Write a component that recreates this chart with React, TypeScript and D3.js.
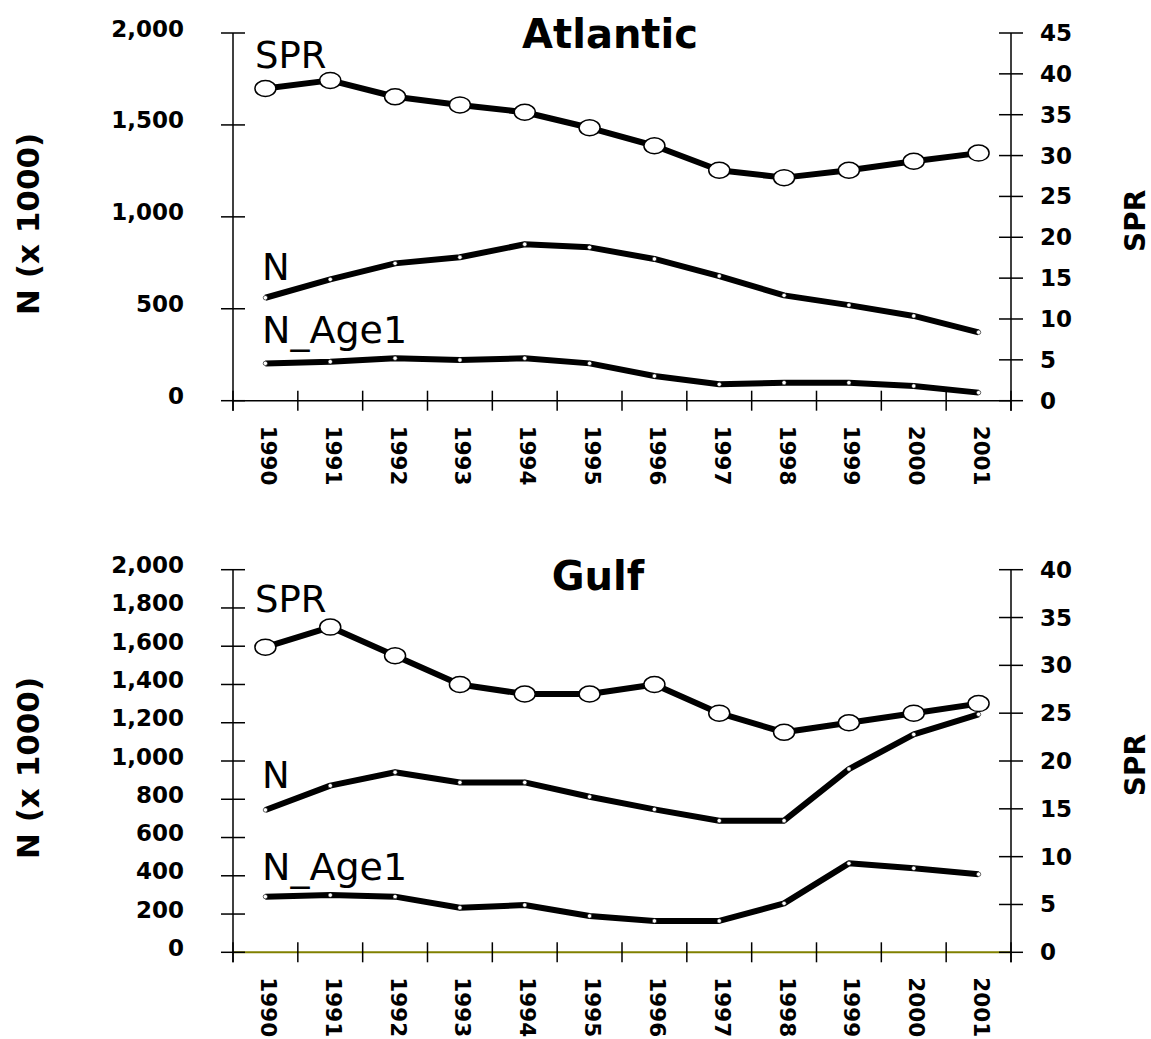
import React from "react";
import * as d3 from "d3";

// ---- data ----
const years = ["1990", "1991", "1992", "1993", "1994", "1995", "1996", "1997", "1998", "1999", "2000", "2001"];

const atlanticSPR = [38.2, 39.2, 37.2, 36.2, 35.3, 33.4, 31.2, 28.2, 27.3, 28.2, 29.3, 30.3];
const atlanticN = [560, 660, 747, 780, 851, 834, 771, 678, 573, 520, 461, 372];
const atlanticNAge1 = [203, 212, 231, 221, 231, 203, 134, 89, 98, 98, 80, 44];

const gulfSPR = [31.9, 34.0, 31.0, 28.0, 27.0, 27.0, 28.0, 25.0, 23.0, 24.0, 25.0, 26.0];
const gulfN = [744, 871, 941, 888, 888, 813, 747, 688, 688, 958, 1139, 1244];
const gulfNAge1 = [291, 299, 291, 233, 247, 190, 164, 164, 256, 465, 439, 408];

const atlanticNTicks = [0, 500, 1000, 1500, 2000];
const atlanticSPRTicks = [0, 5, 10, 15, 20, 25, 30, 35, 40, 45];
const gulfNTicks = [0, 200, 400, 600, 800, 1000, 1200, 1400, 1600, 1800, 2000];
const gulfSPRTicks = [0, 5, 10, 15, 20, 25, 30, 35, 40];

const FONT = "'Comic Sans MS', 'DejaVu Sans', sans-serif";
const W = 1151;
const H = 1039;
const X0 = 233;
const X1 = 1011;

const fmt = d3.format(",");

type PanelProps = {
  title: string;
  titleX: number;
  titleDy: number;
  spr: number[];
  n: number[];
  nAge1: number[];
  nTicks: number[];
  sprTicks: number[];
  top: number;
  bottom: number;
  axisColor: string;
  labelDy: number[];
};

function Panel(p: PanelProps) {
  const x = d3.scaleBand().domain(years).range([X0, X1]);
  const yN = d3.scaleLinear().domain([0, p.nTicks[p.nTicks.length - 1]]).range([p.bottom, p.top]);
  const yS = d3.scaleLinear().domain([0, p.sprTicks[p.sprTicks.length - 1]]).range([p.bottom, p.top]);
  const cx = (i: number) => (x(years[i]) as number) + x.bandwidth() / 2;

  const lineN = d3.line<number>().x((_, i) => cx(i)).y((d) => yN(d));
  const lineS = d3.line<number>().x((_, i) => cx(i)).y((d) => yS(d));

  const bw = x.bandwidth();
  const xTicks = d3.range(years.length + 1).map((i) => X0 + i * bw);
  const mid = (p.top + p.bottom) / 2;

  return (
    <g>
      {/* title */}
      <text x={p.titleX} y={p.top + p.titleDy} textAnchor="middle" fontFamily={FONT} fontWeight="bold" fontSize={40}>
        {p.title}
      </text>

      {/* x axis */}
      <line x1={X0} x2={X1} y1={p.bottom} y2={p.bottom} stroke={p.axisColor} strokeWidth={p.axisColor === "#000" ? 1.5 : 2} />
      {xTicks.map((t, i) => (
        <line key={"xt" + i} x1={t} x2={t} y1={p.bottom - 10} y2={p.bottom + 10} stroke="#000" strokeWidth={1.5} />
      ))}
      {years.map((yr, i) => (
        <text
          key={"yl" + yr}
          transform={`translate(${cx(i) + 3},${p.bottom + 25}) rotate(90)`}
          textAnchor="start"
          dominantBaseline="central"
          fontFamily={FONT}
          fontWeight="bold"
          fontSize={21.5}
        >
          {yr}
        </text>
      ))}

      {/* left axis */}
      <line x1={X0} x2={X0} y1={p.top} y2={p.bottom + 10} stroke="#000" strokeWidth={1.5} />
      {p.nTicks.map((t) => (
        <g key={"ln" + t}>
          <line x1={X0 - 12} x2={X0 + 12} y1={yN(t)} y2={yN(t)} stroke="#000" strokeWidth={1.5} />
          <text x={184} y={yN(t) - 4.5} textAnchor="end" dominantBaseline="central" fontFamily={FONT} fontWeight="bold" fontSize={23}>
            {fmt(t)}
          </text>
        </g>
      ))}
      <text
        transform={`translate(28,${mid + 7}) rotate(-90)`}
        textAnchor="middle"
        dominantBaseline="central"
        fontFamily={FONT}
        fontWeight="bold"
        fontSize={31}
      >
        N (x 1000)
      </text>

      {/* right axis */}
      <line x1={X1} x2={X1} y1={p.top} y2={p.bottom + 10} stroke="#000" strokeWidth={1.5} />
      {p.sprTicks.map((t) => (
        <g key={"rs" + t}>
          <line x1={X1 - 12} x2={X1 + 12} y1={yS(t)} y2={yS(t)} stroke="#000" strokeWidth={1.5} />
          <text x={1040} y={yS(t)} textAnchor="start" dominantBaseline="central" fontFamily={FONT} fontWeight="bold" fontSize={23}>
            {t}
          </text>
        </g>
      ))}
      <text
        transform={`translate(1135,${mid + 4}) rotate(-90)`}
        textAnchor="middle"
        dominantBaseline="central"
        fontFamily={FONT}
        fontWeight="bold"
        fontSize={28}
      >
        SPR
      </text>

      {/* series */}
      <path d={lineN(p.nAge1) || ""} fill="none" stroke="#000" strokeWidth={6} strokeLinejoin="round" />
      <path d={lineN(p.n) || ""} fill="none" stroke="#000" strokeWidth={6} strokeLinejoin="round" />
      <path d={lineS(p.spr) || ""} fill="none" stroke="#000" strokeWidth={6} strokeLinejoin="round" />

      {p.nAge1.map((d, i) => (
        <circle key={"a" + i} cx={cx(i)} cy={yN(d)} r={2.2} fill="#fff" stroke="#000" strokeWidth={0.6} />
      ))}
      {p.n.map((d, i) => (
        <circle key={"n" + i} cx={cx(i)} cy={yN(d)} r={2.2} fill="#fff" stroke="#000" strokeWidth={0.6} />
      ))}
      {p.spr.map((d, i) => (
        <ellipse key={"s" + i} cx={cx(i)} cy={yS(d)} rx={10.5} ry={8} fill="#fff" stroke="#000" strokeWidth={1.5} />
      ))}

      {/* series labels */}
      <text x={255} y={p.top + p.labelDy[0]} fontFamily={FONT} fontSize={37}>SPR</text>
      <text x={262} y={p.top + p.labelDy[1]} fontFamily={FONT} fontSize={37}>N</text>
      <text x={262} y={p.top + p.labelDy[2]} fontFamily={FONT} fontSize={38}>N_Age1</text>
    </g>
  );
}

export default function App() {
  return (
    <svg width={W} height={H} style={{ position: "absolute", left: 0, top: 0, background: "#fff" }}>
      <rect width={W} height={H} fill="#fff" />
      <Panel
        title="Atlantic"
        titleX={610}
        titleDy={15}
        spr={atlanticSPR}
        n={atlanticN}
        nAge1={atlanticNAge1}
        nTicks={atlanticNTicks}
        sprTicks={atlanticSPRTicks}
        top={33}
        bottom={400.7}
        axisColor="#000"
        labelDy={[35, 247, 310]}
      />
      <Panel
        title="Gulf"
        titleX={598}
        titleDy={20}
        spr={gulfSPR}
        n={gulfN}
        nAge1={gulfNAge1}
        nTicks={gulfNTicks}
        sprTicks={gulfSPRTicks}
        top={569.7}
        bottom={952.3}
        axisColor="#808000"
        labelDy={[42, 218, 310]}
      />
    </svg>
  );
}
